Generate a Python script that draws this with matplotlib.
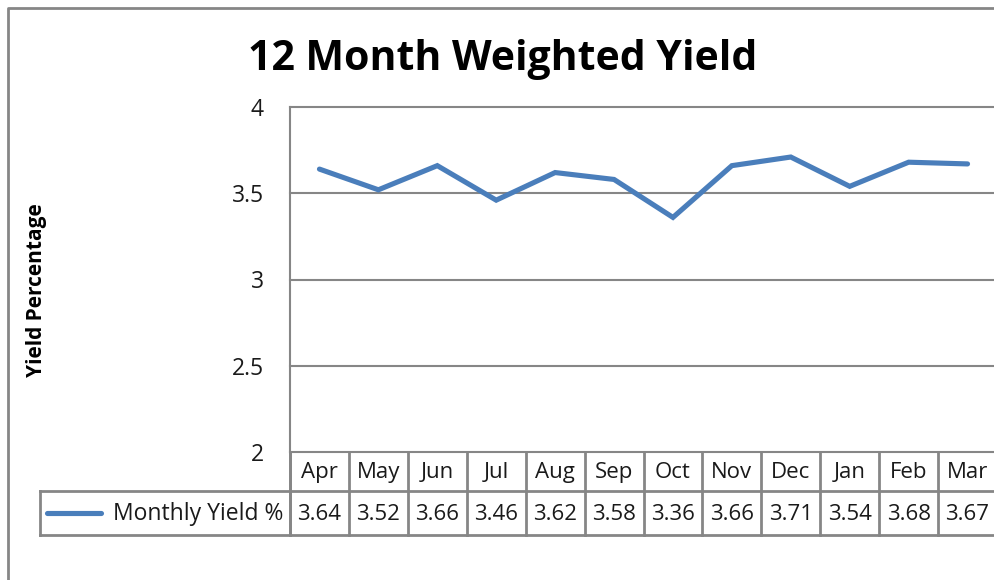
import matplotlib as mpl
mpl.use('Agg')
import matplotlib.pyplot as plt
from matplotlib.transforms import blended_transform_factory
import numpy as np

months = ['Apr', 'May', 'Jun', 'Jul', 'Aug', 'Sep', 'Oct', 'Nov', 'Dec', 'Jan', 'Feb', 'Mar']
yields = [3.64, 3.52, 3.66, 3.46, 3.62, 3.58, 3.36, 3.66, 3.71, 3.54, 3.68, 3.67]
series_name = 'Monthly Yield %'
yticks = [2, 2.5, 3, 3.5, 4]
ytick_labels = ['2', '2.5', '3', '3.5', '4']

FONT = 'Open Sans'
LINE = '#4a7ebb'
GRID = '#868686'
TXT = '#1a1a1a'
W, H = 994, 580

fig = plt.figure(figsize=(W / 100, H / 100), dpi=100)

# overlay in pixel coords for borders/table
over = fig.add_axes([0, 0, 1, 1])
over.set_xlim(0, W)
over.set_ylim(H, 0)
over.axis('off')

# plot area in pixels
px_l, px_r, px_t, px_b = 290, 997, 107, 452
ax = fig.add_axes([px_l / W, 1 - px_b / H, (px_r - px_l) / W, (px_b - px_t) / H])
x = np.arange(len(months))
ax.plot(x, yields, color=LINE, lw=3.7, solid_capstyle='round', solid_joinstyle='miter', zorder=3)
ax.set_xlim(-0.5, len(months) - 0.5)
ax.set_ylim(2, 4)
ax.set_yticks(yticks)
ax.set_yticklabels(ytick_labels, fontsize=16.5, family=FONT, color=TXT)
ax.set_xticks([])
ax.tick_params(axis='y', length=0, pad=19)
for s in ['top', 'right', 'bottom']:
    ax.spines[s].set_visible(False)
ax.spines['left'].set_color(GRID)
ax.spines['left'].set_linewidth(1.5)
for yv in yticks:
    ax.axhline(yv, color=GRID, lw=1.5, zorder=1, clip_on=False)
ax.set_facecolor('none')

# outer chart border
over.plot([8, 8, W + 5], [H + 5, 8, 8], color=GRID, lw=2)

# title and y label
over.text(503, 60, '12 Month Weighted Yield', ha='center', va='center',
          fontsize=29.5, fontweight='bold', family=FONT)
over.text(37, 290, 'Yield Percentage', ha='center', va='center', rotation=90,
          fontsize=15, fontweight='bold', family=FONT)

# data table (columns follow the plot's x scale)
tr = blended_transform_factory(ax.transData, over.transData)
row1_t, row1_b, row2_b = 452, 491, 535
over.plot([px_l, px_l], [row1_t, row2_b], color=GRID, lw=2)
over.plot([40, px_r], [row1_b, row1_b], color=GRID, lw=2)
over.plot([40, px_r], [row2_b, row2_b], color=GRID, lw=2)
over.plot([40, 40], [row1_b, row2_b], color=GRID, lw=2)
for i in range(len(months) + 1):
    over.plot([i - 0.5, i - 0.5], [row1_t, row2_b], color=GRID, lw=2, transform=tr)
for i, (m, v) in enumerate(zip(months, yields)):
    over.text(i, (row1_t + row1_b) / 2 + 1, m, ha='center', va='center', fontsize=16,
              family=FONT, color=TXT, transform=tr)
    over.text(i, (row1_b + row2_b) / 2 + 1, '%.2f' % v, ha='center', va='center', fontsize=16,
              family=FONT, color=TXT, transform=tr)

# legend key in table
over.plot([47, 101], [513, 513], color=LINE, lw=3.7, solid_capstyle='round')
over.text(283, 514, series_name, ha='right', va='center', fontsize=16.5, family=FONT, color=TXT)

fig.savefig('out.png', dpi=100)
